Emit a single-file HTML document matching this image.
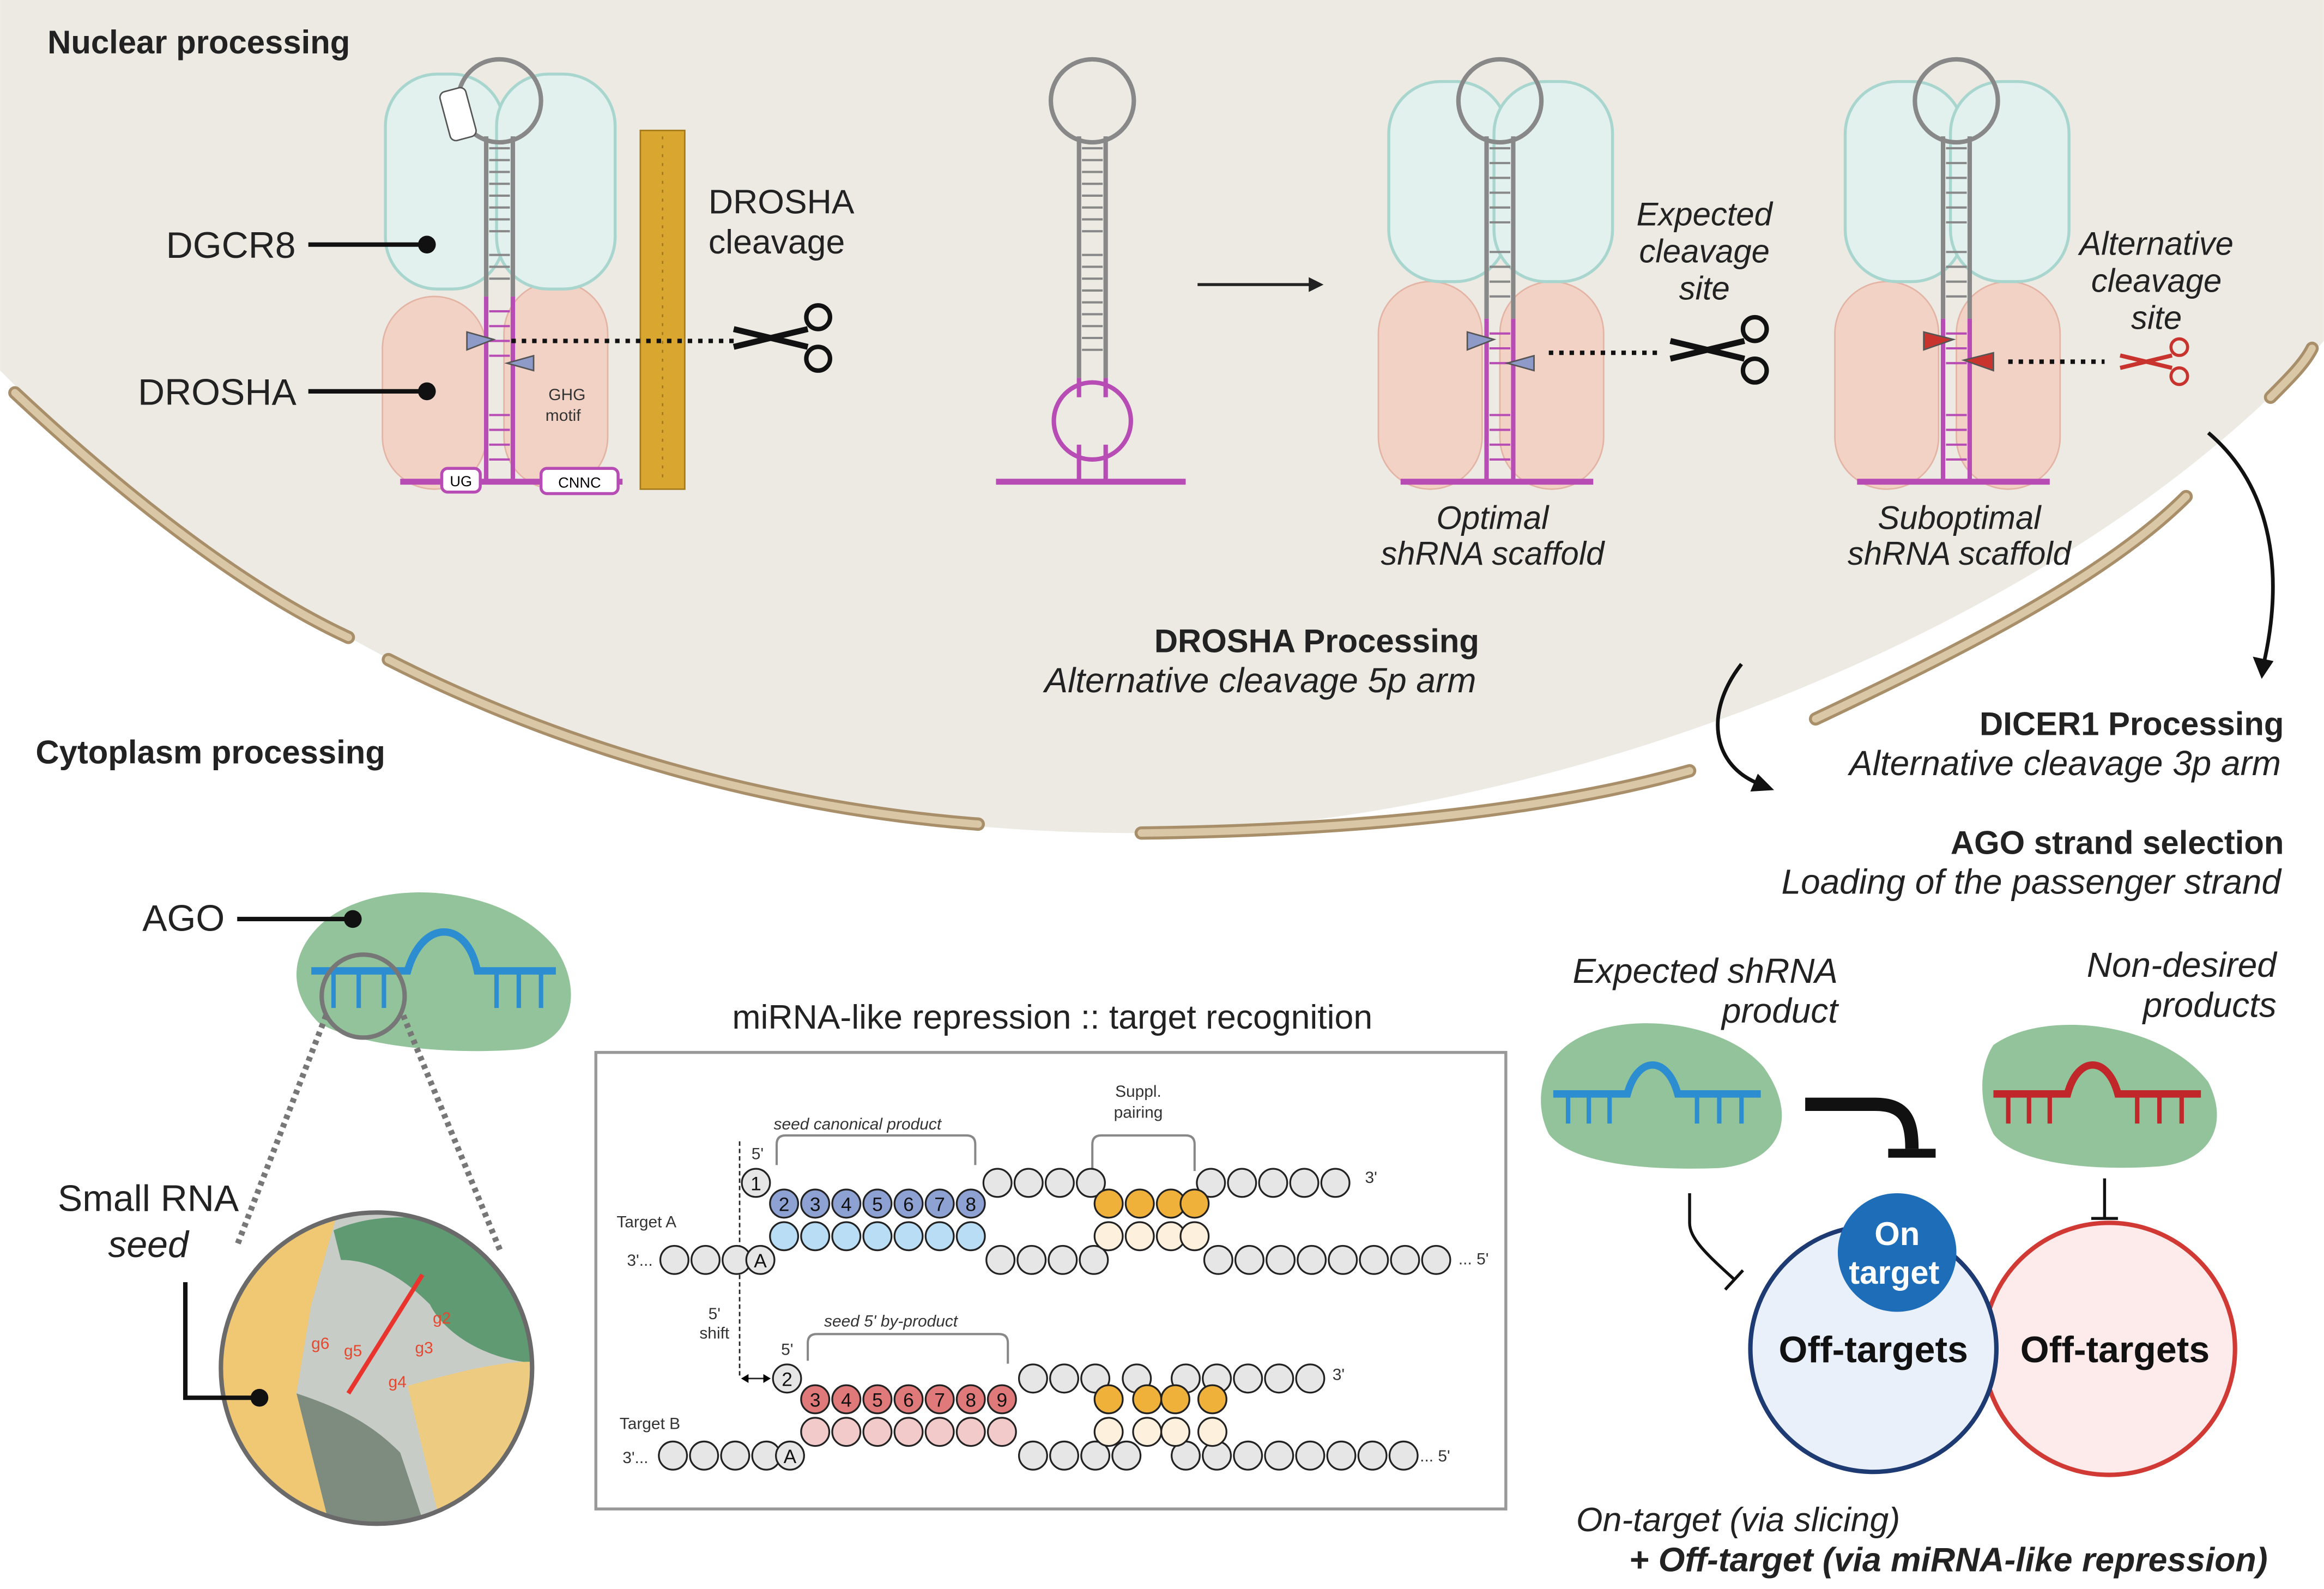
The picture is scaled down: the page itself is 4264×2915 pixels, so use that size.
<!DOCTYPE html>
<html><head><meta charset="utf-8"><style>
html,body{margin:0;padding:0;background:#fff}
svg{display:block}
text{font-family:"Liberation Sans",sans-serif}
</style></head><body>
<svg width="4264" height="2915" viewBox="0 0 1568 1072" xmlns="http://www.w3.org/2000/svg">
<defs>
<g id="sc"><path d="M-25,-6 L25,6 M-25,6 L25,-6" stroke="#111" stroke-width="4"/><circle cx="32" cy="-14" r="8" fill="none" stroke="#111" stroke-width="3"/><circle cx="32" cy="14" r="8" fill="none" stroke="#111" stroke-width="3"/></g>
</defs>
<rect width="1568" height="1072" fill="#fff"/>
<path d="M0,0 H1568 V230 C1400,420 1050,560 760,562 C450,560 200,450 0,250 Z" fill="#ECEAE3"/>
<g fill="none" stroke-linecap="round">
<g stroke="#A88F6A" stroke-width="9">
<path d="M10,265 C90,340 170,400 235,430"/><path d="M262,445 C380,505 520,545 660,556"/><path d="M770,562 C930,560 1050,545 1140,520"/><path d="M1225,485 C1320,440 1420,390 1475,335"/><path d="M1532,268 C1545,255 1555,245 1560,235"/></g>
<g stroke="#D9C7A6" stroke-width="5">
<path d="M10,265 C90,340 170,400 235,430"/><path d="M262,445 C380,505 520,545 660,556"/><path d="M770,562 C930,560 1050,545 1140,520"/><path d="M1225,485 C1320,440 1420,390 1475,335"/><path d="M1532,268 C1545,255 1555,245 1560,235"/></g>
</g>
<text x="32" y="36" font-size="22" font-weight="bold" fill="#222">Nuclear processing</text>
<text x="24" y="515" font-size="22" font-weight="bold" fill="#222">Cytoplasm processing</text>

<g>
<rect x="258" y="200" width="70" height="130" rx="35" fill="#F3D2C6" stroke="#E3B3A4"/>
<rect x="340" y="190" width="70" height="140" rx="35" fill="#F3D2C6" stroke="#E3B3A4"/>
<rect x="260" y="50" width="80" height="145" rx="35" fill="#E3F1EE" stroke="#A8D6CF" stroke-width="2"/>
<rect x="335" y="50" width="80" height="145" rx="35" fill="#E3F1EE" stroke="#A8D6CF" stroke-width="2"/>
<circle cx="337" cy="68" r="28" fill="none" stroke="#888" stroke-width="3"/>
<path d="M328,92 V200 M346,92 V200" stroke="#888" stroke-width="3"/>
<path d="M330,100 H344 M330,108 H344 M330,116 H344 M330,124 H344 M330,132 H344 M330,140 H344 M330,148 H344 M330,156 H344 M330,172 H344 M330,180 H344 M330,188 H344" stroke="#888" stroke-width="1.5"/>
<path d="M328,200 V325 M346,200 V325" stroke="#B74CB5" stroke-width="3"/>
<path d="M330,210 H344 M330,220 H344 M330,230 H344 M330,240 H344 M330,280 H344 M330,290 H344 M330,300 H344 M330,310 H344" stroke="#B74CB5" stroke-width="1.5"/>
<path d="M270,325 H420" stroke="#B74CB5" stroke-width="4"/>
<polygon points="315,224 333,229 315,236" fill="#8E9AC8" stroke="#555"/>
<polygon points="360,240 342,245 360,250" fill="#8E9AC8" stroke="#555"/>
<rect x="298" y="316" width="26" height="16" rx="4" fill="#fff" stroke="#B74CB5" stroke-width="2"/><text x="311" y="328" font-size="10" text-anchor="middle">UG</text>
<rect x="365" y="316" width="52" height="17" rx="4" fill="#fff" stroke="#B74CB5" stroke-width="2"/><text x="391" y="329" font-size="10" text-anchor="middle">CNNC</text>
<rect x="300" y="60" width="18" height="34" rx="4" fill="#fff" stroke="#555" transform="rotate(-15 309 77)"/>
<text x="370" y="270" font-size="11" fill="#333">GHG</text><text x="368" y="284" font-size="11" fill="#333">motif</text>
<rect x="432" y="88" width="30" height="242" fill="#D9A630" stroke="#A57A1A"/>
<path d="M447,92 V326" stroke="#A57A1A" stroke-dasharray="2,4"/>
<path d="M208,165 H288 M208,264 H288" stroke="#111" stroke-width="3"/>
<circle cx="288" cy="165" r="6" fill="#111"/><circle cx="288" cy="264" r="6" fill="#111"/>
<text x="112" y="174" font-size="25" fill="#222">DGCR8</text>
<text x="93" y="273" font-size="25" fill="#222">DROSHA</text>
<text x="478" y="144" font-size="23" fill="#222">DROSHA</text>
<text x="478" y="171" font-size="23" fill="#222">cleavage</text>
<path d="M345,230 H495" stroke="#111" stroke-width="3" stroke-dasharray="3,4"/>
<use href="#sc" x="520" y="228"/>
</g>

<circle cx="737" cy="68" r="28" fill="none" stroke="#888" stroke-width="3"/>
<path d="M728,92 V255 M746,92 V255" stroke="#888" stroke-width="3"/>
<path d="M730,100 H744 M730,108 H744 M730,116 H744 M730,124 H744 M730,132 H744 M730,140 H744 M730,148 H744 M730,156 H744 M730,172 H744 M730,180 H744 M730,188 H744 M730,196 H744 M730,204 H744 M730,212 H744 M730,220 H744 M730,228 H744 M730,236 H744" stroke="#888" stroke-width="1.5"/>
<path d="M728,255 V268 M746,255 V268 M728,300 V325 M746,300 V325" stroke="#B74CB5" stroke-width="3"/>
<circle cx="737" cy="284" r="26" fill="none" stroke="#B74CB5" stroke-width="3"/>
<path d="M672,325 H800" stroke="#B74CB5" stroke-width="4"/>
<path d="M808,192 H888" stroke="#222" stroke-width="2"/><polygon points="893,192 883,187 883,197" fill="#222"/>

<g id="cx">
<rect x="930" y="190" width="70" height="140" rx="35" fill="#F3D2C6" stroke="#E3B3A4"/>
<rect x="1012" y="190" width="70" height="140" rx="35" fill="#F3D2C6" stroke="#E3B3A4"/>
<rect x="937" y="55" width="80" height="135" rx="35" fill="#E3F1EE" stroke="#A8D6CF" stroke-width="2"/>
<rect x="1008" y="55" width="80" height="135" rx="35" fill="#E3F1EE" stroke="#A8D6CF" stroke-width="2"/>
<circle cx="1012" cy="68" r="28" fill="none" stroke="#888" stroke-width="3"/>
<path d="M1003,92 V215 M1021,92 V215" stroke="#888" stroke-width="3"/>
<path d="M1005,100 H1019 M1005,110 H1019 M1005,120 H1019 M1005,130 H1019 M1005,140 H1019 M1005,150 H1019 M1005,170 H1019 M1005,180 H1019 M1005,190 H1019 M1005,200 H1019" stroke="#888" stroke-width="1.5"/>
<path d="M1003,215 V325 M1021,215 V325" stroke="#B74CB5" stroke-width="3"/>
<path d="M1005,225 H1019 M1005,235 H1019 M1005,245 H1019 M1005,280 H1019 M1005,290 H1019 M1005,300 H1019 M1005,310 H1019" stroke="#B74CB5" stroke-width="1.5"/>
<path d="M945,325 H1075" stroke="#B74CB5" stroke-width="4"/>
</g>
<polygon points="990,224 1008,229 990,236" fill="#8E9AC8" stroke="#555"/>
<polygon points="1035,240 1017,245 1035,250" fill="#8E9AC8" stroke="#555"/>
<path d="M1045,238 H1120" stroke="#111" stroke-width="3" stroke-dasharray="3,4"/>
<use href="#sc" x="1152" y="236"/>
<g font-size="22" font-style="italic" text-anchor="middle" fill="#222">
<text x="1150" y="152">Expected</text><text x="1150" y="177">cleavage</text><text x="1150" y="202">site</text>
<text x="1007" y="357">Optimal</text><text x="1007" y="381">shRNA scaffold</text>
<text x="1455" y="172">Alternative</text><text x="1455" y="197">cleavage</text><text x="1455" y="222">site</text>
<text x="1322" y="357">Suboptimal</text><text x="1322" y="381">shRNA scaffold</text>
</g>
<use href="#cx" x="308" y="0"/>
<polygon points="1298,224 1318,229 1298,236" fill="#C8332E" stroke="#555"/>
<polygon points="1345,238 1325,243 1345,250" fill="#C8332E" stroke="#555"/>
<path d="M1355,244 H1420" stroke="#111" stroke-width="3" stroke-dasharray="3,4"/>
<g transform="translate(1448,244) scale(0.7)"><path d="M-25,-6 L25,6 M-25,6 L25,-6" stroke="#C8332E" stroke-width="4"/><circle cx="32" cy="-14" r="8" fill="none" stroke="#C8332E" stroke-width="3"/><circle cx="32" cy="14" r="8" fill="none" stroke="#C8332E" stroke-width="3"/></g>
<text x="998" y="440" font-size="22" font-weight="bold" text-anchor="end" fill="#222">DROSHA Processing</text>
<text x="996" y="467" font-size="23.5" font-style="italic" text-anchor="end" fill="#222">Alternative cleavage 5p arm</text>
<path d="M1490,292 C1535,330 1540,390 1528,445" fill="none" stroke="#111" stroke-width="2.5"/><polygon points="1526,458 1520,443 1534,446" fill="#111"/>
<path d="M1175,448 C1150,480 1155,515 1185,528" fill="none" stroke="#111" stroke-width="2.5"/><polygon points="1197,533 1181,534 1186,522" fill="#111"/>
<text x="1541" y="496" font-size="22" font-weight="bold" text-anchor="end" fill="#222">DICER1 Processing</text>
<text x="1539" y="523" font-size="23.5" font-style="italic" text-anchor="end" fill="#222">Alternative cleavage 3p arm</text>
<text x="1541" y="576" font-size="22" font-weight="bold" text-anchor="end" fill="#222">AGO strand selection</text>
<text x="1539" y="603" font-size="23.5" font-style="italic" text-anchor="end" fill="#222">Loading of the passenger strand</text>

<path d="M215,625 C250,590 340,595 375,640 C395,670 385,705 350,708 C300,712 240,705 215,690 C195,670 195,645 215,625Z" fill="#93C39A"/>
<path d="M210,655 H275 C285,620 315,620 322,655 H375" fill="none" stroke="#2C8ED1" stroke-width="5"/>
<path d="M225,655 V680 M242,655 V680 M259,655 V680 M335,655 V680 M350,655 V680 M365,655 V680" stroke="#2C8ED1" stroke-width="3"/>
<circle cx="245" cy="672" r="28" fill="none" stroke="#777" stroke-width="3"/>
<path d="M220,685 L160,840 M272,685 L338,845" stroke="#777" stroke-width="4" stroke-dasharray="3,3"/>
<path d="M160,620 H238" stroke="#111" stroke-width="3"/><circle cx="238" cy="620" r="6" fill="#111"/>
<text x="96" y="628" font-size="25" fill="#222">AGO</text>
<text x="100" y="817" font-size="25" text-anchor="middle" fill="#222">Small RNA</text>
<text x="100" y="848" font-size="25" font-style="italic" text-anchor="middle" fill="#222">seed</text>
<clipPath id="cc"><circle cx="254" cy="923" r="105"/></clipPath>
<g clip-path="url(#cc)">
<rect x="140" y="810" width="230" height="230" fill="#C8CCC6"/>
<path d="M140,810 H230 L210,880 L200,940 L225,1040 H140Z" fill="#F0C874"/>
<path d="M225,830 C260,815 300,820 370,840 V920 C330,920 300,900 290,880 C270,860 250,850 230,850Z" fill="#5F9A72"/>
<path d="M275,935 C310,925 350,915 370,920 V1040 H300 Z" fill="#EDCB80"/>
<path d="M200,940 C230,950 250,960 270,980 L290,1040 H225 Z" fill="#7E8C80"/>
<path d="M285,860 L235,940" stroke="#E8342C" stroke-width="3"/>
<text x="210" y="910" font-size="11" fill="#E5482F">g6</text><text x="232" y="915" font-size="11" fill="#E5482F">g5</text>
<text x="280" y="913" font-size="11" fill="#E5482F">g3</text><text x="292" y="893" font-size="11" fill="#E5482F">g2</text><text x="262" y="936" font-size="11" fill="#E5482F">g4</text>
</g>
<circle cx="254" cy="923" r="105" fill="none" stroke="#6A6A6A" stroke-width="3"/>
<path d="M125,865 V943 H175" fill="none" stroke="#111" stroke-width="3"/><circle cx="175" cy="943" r="6" fill="#111"/>

<text x="710" y="694" font-size="23" text-anchor="middle" fill="#222">miRNA-like repression :: target recognition</text>
<rect x="402" y="710" width="614" height="308" fill="#fff" stroke="#999" stroke-width="2"/>
<g font-size="11" fill="#333">
<text x="522" y="762" font-style="italic">seed canonical product</text>
<text x="768" y="740" text-anchor="middle">Suppl.</text><text x="768" y="754" text-anchor="middle">pairing</text>
<text x="416" y="828">Target A</text><text x="418" y="964">Target B</text>
<text x="507" y="782">5'</text><text x="527" y="914">5'</text>
<text x="482" y="890" text-anchor="middle">5'</text><text x="482" y="903" text-anchor="middle">shift</text>
<text x="556" y="895" font-style="italic">seed 5' by-product</text>
<text x="423" y="854">3'...</text><text x="984" y="853">... 5'</text><text x="921" y="798">3'</text>
<text x="420" y="987">3'...</text><text x="958" y="986">... 5'</text><text x="899" y="931">3'</text>
</g>
<path d="M524,786 V772 C524,768 526,766 530,766 H652 C656,766 658,768 658,772 V786 M737,790 V772 C737,768 739,766 743,766 H800 C804,766 806,768 806,772 V790 M545,918 V906 C545,902 547,900 551,900 H674 C678,900 680,902 680,906 V920" fill="none" stroke="#888" stroke-width="1.5"/>
<path d="M499,770 V930" stroke="#222" stroke-dasharray="3,2"/>
<path d="M502,930 H518" stroke="#222"/><polygon points="500,930 505,927 505,933"/><polygon points="520,930 515,927 515,933"/>
<g stroke="#222" stroke-width="1.2" font-size="12">
<g fill="#E6E6E6">
<circle cx="510" cy="798" r="9.5"/>
<circle cx="673" cy="798" r="9.5"/><circle cx="694" cy="798" r="9.5"/><circle cx="715" cy="798" r="9.5"/><circle cx="736" cy="798" r="9.5"/>
<circle cx="817" cy="798" r="9.5"/><circle cx="838" cy="798" r="9.5"/><circle cx="859" cy="798" r="9.5"/><circle cx="880" cy="798" r="9.5"/><circle cx="901" cy="798" r="9.5"/>
<circle cx="455" cy="850" r="9.5"/><circle cx="476" cy="850" r="9.5"/><circle cx="497" cy="850" r="9.5"/><circle cx="513" cy="850" r="9.5"/>
<circle cx="675" cy="850" r="9.5"/><circle cx="696" cy="850" r="9.5"/><circle cx="717" cy="850" r="9.5"/><circle cx="738" cy="850" r="9.5"/>
<circle cx="822" cy="850" r="9.5"/><circle cx="843" cy="850" r="9.5"/><circle cx="864" cy="850" r="9.5"/><circle cx="885" cy="850" r="9.5"/><circle cx="906" cy="850" r="9.5"/><circle cx="927" cy="850" r="9.5"/><circle cx="948" cy="850" r="9.5"/><circle cx="969" cy="850" r="9.5"/>
<circle cx="531" cy="930" r="9.5"/>
<circle cx="697" cy="930" r="9.5"/><circle cx="718" cy="930" r="9.5"/><circle cx="739" cy="930" r="9.5"/><circle cx="767" cy="930" r="9.5"/><circle cx="800" cy="930" r="9.5"/>
<circle cx="821" cy="930" r="9.5"/><circle cx="842" cy="930" r="9.5"/><circle cx="863" cy="930" r="9.5"/><circle cx="884" cy="930" r="9.5"/>
<circle cx="454" cy="982" r="9.5"/><circle cx="475" cy="982" r="9.5"/><circle cx="496" cy="982" r="9.5"/><circle cx="517" cy="982" r="9.5"/><circle cx="533" cy="982" r="9.5"/>
<circle cx="697" cy="982" r="9.5"/><circle cx="718" cy="982" r="9.5"/><circle cx="739" cy="982" r="9.5"/><circle cx="760" cy="982" r="9.5"/><circle cx="800" cy="982" r="9.5"/>
<circle cx="821" cy="982" r="9.5"/><circle cx="842" cy="982" r="9.5"/><circle cx="863" cy="982" r="9.5"/><circle cx="884" cy="982" r="9.5"/><circle cx="905" cy="982" r="9.5"/><circle cx="926" cy="982" r="9.5"/><circle cx="947" cy="982" r="9.5"/>
</g>
<g fill="#8DA1D3"><circle cx="529" cy="812" r="9.5"/><circle cx="550" cy="812" r="9.5"/><circle cx="571" cy="812" r="9.5"/><circle cx="592" cy="812" r="9.5"/><circle cx="613" cy="812" r="9.5"/><circle cx="634" cy="812" r="9.5"/><circle cx="655" cy="812" r="9.5"/></g>
<g fill="#B9DDF4"><circle cx="529" cy="834" r="9.5"/><circle cx="550" cy="834" r="9.5"/><circle cx="571" cy="834" r="9.5"/><circle cx="592" cy="834" r="9.5"/><circle cx="613" cy="834" r="9.5"/><circle cx="634" cy="834" r="9.5"/><circle cx="655" cy="834" r="9.5"/></g>
<g fill="#F0B13A"><circle cx="748" cy="812" r="9.5"/><circle cx="769" cy="812" r="9.5"/><circle cx="790" cy="812" r="9.5"/><circle cx="806" cy="812" r="9.5"/>
<circle cx="748" cy="944" r="9.5"/><circle cx="774" cy="944" r="9.5"/><circle cx="793" cy="944" r="9.5"/><circle cx="818" cy="944" r="9.5"/></g>
<g fill="#FDF0DC"><circle cx="748" cy="834" r="9.5"/><circle cx="769" cy="834" r="9.5"/><circle cx="790" cy="834" r="9.5"/><circle cx="806" cy="834" r="9.5"/>
<circle cx="748" cy="966" r="9.5"/><circle cx="774" cy="966" r="9.5"/><circle cx="793" cy="966" r="9.5"/><circle cx="818" cy="966" r="9.5"/></g>
<g fill="#E07A7A"><circle cx="550" cy="944" r="9.5"/><circle cx="571" cy="944" r="9.5"/><circle cx="592" cy="944" r="9.5"/><circle cx="613" cy="944" r="9.5"/><circle cx="634" cy="944" r="9.5"/><circle cx="655" cy="944" r="9.5"/><circle cx="676" cy="944" r="9.5"/></g>
<g fill="#F3CACA"><circle cx="550" cy="966" r="9.5"/><circle cx="571" cy="966" r="9.5"/><circle cx="592" cy="966" r="9.5"/><circle cx="613" cy="966" r="9.5"/><circle cx="634" cy="966" r="9.5"/><circle cx="655" cy="966" r="9.5"/><circle cx="676" cy="966" r="9.5"/></g>
</g>
<g font-size="13" text-anchor="middle" fill="#111">
<text x="510" y="803">1</text><text x="529" y="817">2</text><text x="550" y="817">3</text><text x="571" y="817">4</text><text x="592" y="817">5</text><text x="613" y="817">6</text><text x="634" y="817">7</text><text x="655" y="817">8</text>
<text x="513" y="855">A</text><text x="533" y="987">A</text><text x="531" y="935">2</text>
<text x="550" y="949">3</text><text x="571" y="949">4</text><text x="592" y="949">5</text><text x="613" y="949">6</text><text x="634" y="949">7</text><text x="655" y="949">8</text><text x="676" y="949">9</text>
</g>

<g font-size="23.5" font-style="italic" text-anchor="end" fill="#222">
<text x="1240" y="663">Expected shRNA</text><text x="1240" y="690">product</text>
<text x="1536" y="659">Non-desired</text><text x="1536" y="686">products</text>
</g>
<path d="M1052,710 C1080,680 1160,685 1190,720 C1215,755 1200,785 1160,788 C1110,790 1060,785 1045,765 C1035,745 1040,722 1052,710Z" fill="#93C39A"/>
<path d="M1048,738 H1098 C1105,712 1125,712 1132,738 H1188" fill="none" stroke="#2C8ED1" stroke-width="5"/>
<path d="M1058,738 V758 M1072,738 V758 M1086,738 V758 M1145,738 V758 M1160,738 V758 M1175,738 V758" stroke="#2C8ED1" stroke-width="3"/>
<path d="M1345,705 C1380,680 1460,690 1490,730 C1505,760 1490,785 1455,787 C1410,790 1360,785 1345,765 C1335,745 1335,720 1345,705Z" fill="#93C39A"/>
<path d="M1345,738 H1395 C1402,712 1422,712 1429,738 H1485" fill="none" stroke="#C0262A" stroke-width="5"/>
<path d="M1355,738 V758 M1369,738 V758 M1383,738 V758 M1442,738 V758 M1457,738 V758 M1472,738 V758" stroke="#C0262A" stroke-width="3"/>
<circle cx="1423" cy="910" r="85" fill="#FCEBEA" stroke="#D13A34" stroke-width="3"/>
<circle cx="1264" cy="910" r="83" fill="#E9F0FA" stroke="#1E3A72" stroke-width="3"/>
<circle cx="1280" cy="845" r="40" fill="#1E6DB8"/>
<text x="1280" y="840" font-size="22" font-weight="bold" text-anchor="middle" fill="#fff">On</text>
<text x="1278" y="866" font-size="22" font-weight="bold" text-anchor="middle" fill="#fff">target</text>
<text x="1264" y="919" font-size="25" font-weight="bold" text-anchor="middle" fill="#111">Off-targets</text>
<text x="1427" y="919" font-size="25" font-weight="bold" text-anchor="middle" fill="#111">Off-targets</text>
<path d="M1218,745 H1265 C1285,745 1290,755 1290,775" fill="none" stroke="#111" stroke-width="9"/>
<path d="M1274,778 H1306" stroke="#111" stroke-width="6"/>
<path d="M1140,805 V825 C1140,835 1150,845 1170,863" fill="none" stroke="#111" stroke-width="2"/>
<path d="M1164,870 L1176,857" stroke="#111" stroke-width="2"/>
<path d="M1420,795 V822 M1411,822 H1429" stroke="#111" stroke-width="2"/>
<text x="1282" y="1033" font-size="23" font-style="italic" text-anchor="end" fill="#222">On-target (via slicing)</text>
<text x="1530" y="1060" font-size="23" font-style="italic" font-weight="bold" text-anchor="end" fill="#222">+ Off-target (via miRNA-like repression)</text>
</svg>
</body></html>
